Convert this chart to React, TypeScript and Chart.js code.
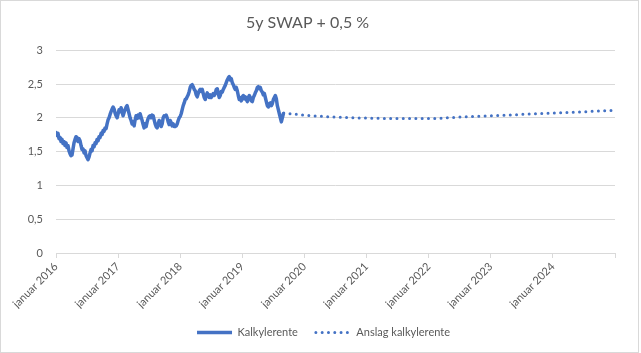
import React, { useEffect, useRef } from 'react';
import { Chart, registerables } from 'chart.js';

Chart.register(...registerables);

const TITLE = '5y SWAP + 0,5 %';
const SERIES_NAMES = ['Kalkylerente', 'Anslag kalkylerente'];
const START_YEAR = 2016;
const END_MONTH = 108; // januar 2025 (axis end, no label)
const yTickValues = [0, 0.5, 1, 1.5, 2, 2.5, 3];

// historical observations, roughly every 6 days from januar 2016
const HIST_STEP_MONTHS = 0.1935;
const histValues = [
  1.78, 1.74, 1.77, 1.69, 1.71, 1.65, 1.68, 1.62, 1.65, 1.59, 1.63, 1.56, 1.59, 1.51, 1.47, 1.44, 1.45, 1.54, 1.63, 1.68,
  1.72, 1.71, 1.65, 1.69, 1.66, 1.59, 1.53, 1.54, 1.48, 1.51, 1.44, 1.41, 1.38, 1.42, 1.48, 1.53, 1.51, 1.59, 1.57, 1.63,
  1.62, 1.68, 1.66, 1.72, 1.71, 1.77, 1.75, 1.81, 1.80, 1.85, 1.84, 1.91, 1.97, 2.00, 2.05, 2.09, 2.13, 2.16, 2.13, 2.07,
  2.03, 2.00, 2.06, 2.12, 2.09, 2.15, 2.09, 2.03, 2.08, 2.12, 2.16, 2.18, 2.12, 2.06, 2.00, 1.96, 1.91, 1.94, 1.88, 1.97,
  2.03, 1.99, 2.04, 2.00, 2.06, 2.01, 1.96, 1.90, 1.85, 1.91, 1.87, 1.94, 1.99, 2.02, 2.03, 2.00, 2.04, 2.03, 1.97, 1.91,
  1.87, 1.85, 1.91, 1.96, 1.93, 1.87, 1.91, 2.00, 2.03, 2.02, 2.04, 2.00, 1.94, 1.90, 1.96, 1.93, 1.88, 1.91, 1.87, 1.87,
  1.88, 1.91, 1.96, 2.00, 2.02, 2.06, 2.12, 2.18, 2.22, 2.27, 2.28, 2.31, 2.34, 2.39, 2.45, 2.48, 2.49, 2.46, 2.42, 2.40,
  2.34, 2.31, 2.36, 2.40, 2.42, 2.39, 2.42, 2.36, 2.30, 2.27, 2.33, 2.37, 2.33, 2.30, 2.34, 2.30, 2.33, 2.36, 2.33, 2.36,
  2.42, 2.43, 2.36, 2.30, 2.33, 2.39, 2.38, 2.42, 2.45, 2.48, 2.52, 2.56, 2.59, 2.61, 2.56, 2.58, 2.52, 2.49, 2.45, 2.42,
  2.45, 2.40, 2.33, 2.27, 2.30, 2.25, 2.31, 2.33, 2.28, 2.31, 2.27, 2.24, 2.30, 2.33, 2.30, 2.25, 2.24, 2.30, 2.33, 2.37,
  2.40, 2.45, 2.46, 2.43, 2.45, 2.40, 2.38, 2.34, 2.36, 2.30, 2.24, 2.18, 2.16, 2.21, 2.22, 2.18, 2.21, 2.27, 2.30, 2.33,
  2.28, 2.18, 2.12, 2.06, 2.00, 1.94, 2.00, 2.06,
];

// forecast (months after januar 2016)
const forecastMonths = [44, 48, 54, 60, 66, 72, 78, 84, 90, 96, 102, 108];
const forecastValues = [2.07, 2.04, 2.01, 1.995, 1.99, 1.99, 2.01, 2.03, 2.05, 2.07, 2.09, 2.11];

const BLUE = '#4472C4';
const GREY_TEXT = '#595959';
const GRID = '#d9d9d9';
const FONT = 'Lato';

const frame = {
  id: 'frame',
  beforeDraw(chart: any) {
    const { ctx, width, height } = chart;
    ctx.save();
    ctx.fillStyle = '#ffffff';
    ctx.fillRect(0, 0, width, height);
    ctx.strokeStyle = GRID;
    ctx.lineWidth = 1;
    ctx.strokeRect(0.5, 0.5, width - 3, height - 1);
    ctx.restore();
  },
};

const legendShift = {
  id: 'legendShift',
  afterLayout(chart: any) {
    const lg = chart.legend;
    if (lg) {
      lg.left += 16;
      lg.right += 16;
    }
  },
};

export default function App() {
  const ref = useRef<HTMLCanvasElement | null>(null);

  useEffect(() => {
    if (!ref.current) return;
    const histData = histValues.map((v, i) => ({ x: i * HIST_STEP_MONTHS, y: v }));
    const fcData = forecastMonths.map((m, i) => ({ x: m, y: forecastValues[i] }));
    const chart = new Chart(ref.current, {
      type: 'line',
      data: {
        datasets: [
          {
            label: SERIES_NAMES[0],
            data: histData,
            borderColor: BLUE,
            backgroundColor: BLUE,
            borderWidth: 3.5,
            borderJoinStyle: 'round',
            borderCapStyle: 'round',
            pointRadius: 0,
            tension: 0,
          },
          {
            label: SERIES_NAMES[1],
            data: fcData,
            borderColor: BLUE,
            backgroundColor: BLUE,
            borderWidth: 3,
            borderDash: [0, 6.3],
            borderCapStyle: 'round',
            pointRadius: 0,
            cubicInterpolationMode: 'monotone',
          },
        ],
      },
      options: {
        animation: false,
        responsive: false,
        maintainAspectRatio: false,
        layout: { padding: { left: 0, right: 26, top: 0, bottom: 5 } },
        plugins: {
          title: {
            display: true,
            text: TITLE,
            color: GREY_TEXT,
            font: { family: FONT, size: 16, weight: 'normal' },
            padding: { top: 13, bottom: 18 },
          },
          legend: {
            position: 'bottom',
            labels: {
              usePointStyle: true,
              pointStyle: 'line',
              pointStyleWidth: 35,
              color: GREY_TEXT,
              font: { family: FONT, size: 11 },
              padding: 18,
              generateLabels(chart: any) {
                const items = Chart.defaults.plugins.legend.labels.generateLabels(chart);
                return items.map((it: any) => {
                  const ds: any = chart.data.datasets[it.datasetIndex];
                  const dashed = !!(ds.borderDash && ds.borderDash.length);
                  return {
                    ...it,
                    pointStyle: 'line',
                    lineDash: dashed ? ds.borderDash : [],
                    lineCap: dashed ? 'round' : 'butt',
                    lineWidth: ds.borderWidth,
                    strokeStyle: ds.borderColor,
                    fillStyle: ds.borderColor,
                  };
                });
              },
            },
          },
          tooltip: { enabled: false },
        },
        scales: {
          x: {
            type: 'linear',
            min: 0,
            max: END_MONTH,
            afterBuildTicks(scale: any) {
              const t = [];
              for (let m = 0; m <= END_MONTH; m += 12) t.push({ value: m });
              scale.ticks = t;
            },
            afterFit(scale: any) {
              scale.height = 56;
            },
            ticks: {
              minRotation: 45,
              maxRotation: 45,
              autoSkip: false,
              color: GREY_TEXT,
              font: { family: FONT, size: 11 },
              padding: 2,
              callback: (v: any) => (Number(v) >= END_MONTH ? '' : 'januar ' + (START_YEAR + Number(v) / 12)),
            },
            grid: { drawOnChartArea: false, drawTicks: true, tickLength: 5, color: GRID },
            border: { display: true, color: GRID },
          },
          y: {
            min: 0,
            max: 3,
            afterBuildTicks(scale: any) {
              scale.ticks = yTickValues.map((v) => ({ value: v }));
            },
            afterFit(scale: any) {
              scale.width = 56;
            },
            ticks: {
              color: GREY_TEXT,
              font: { family: FONT, size: 11 },
              padding: 13,
              callback: (v: any) => String(v).replace('.', ','),
            },
            grid: { color: GRID, drawTicks: false },
            border: { display: false },
          },
        },
      },
      plugins: [frame, legendShift],
    });
    return () => chart.destroy();
  }, []);

  return (
    <div style={{ position: 'fixed', left: 0, top: 0, width: 641, height: 353, background: '#fff' }}>
      <canvas ref={ref} width={641} height={353} style={{ width: 641, height: 353, display: 'block' }} />
    </div>
  );
}
